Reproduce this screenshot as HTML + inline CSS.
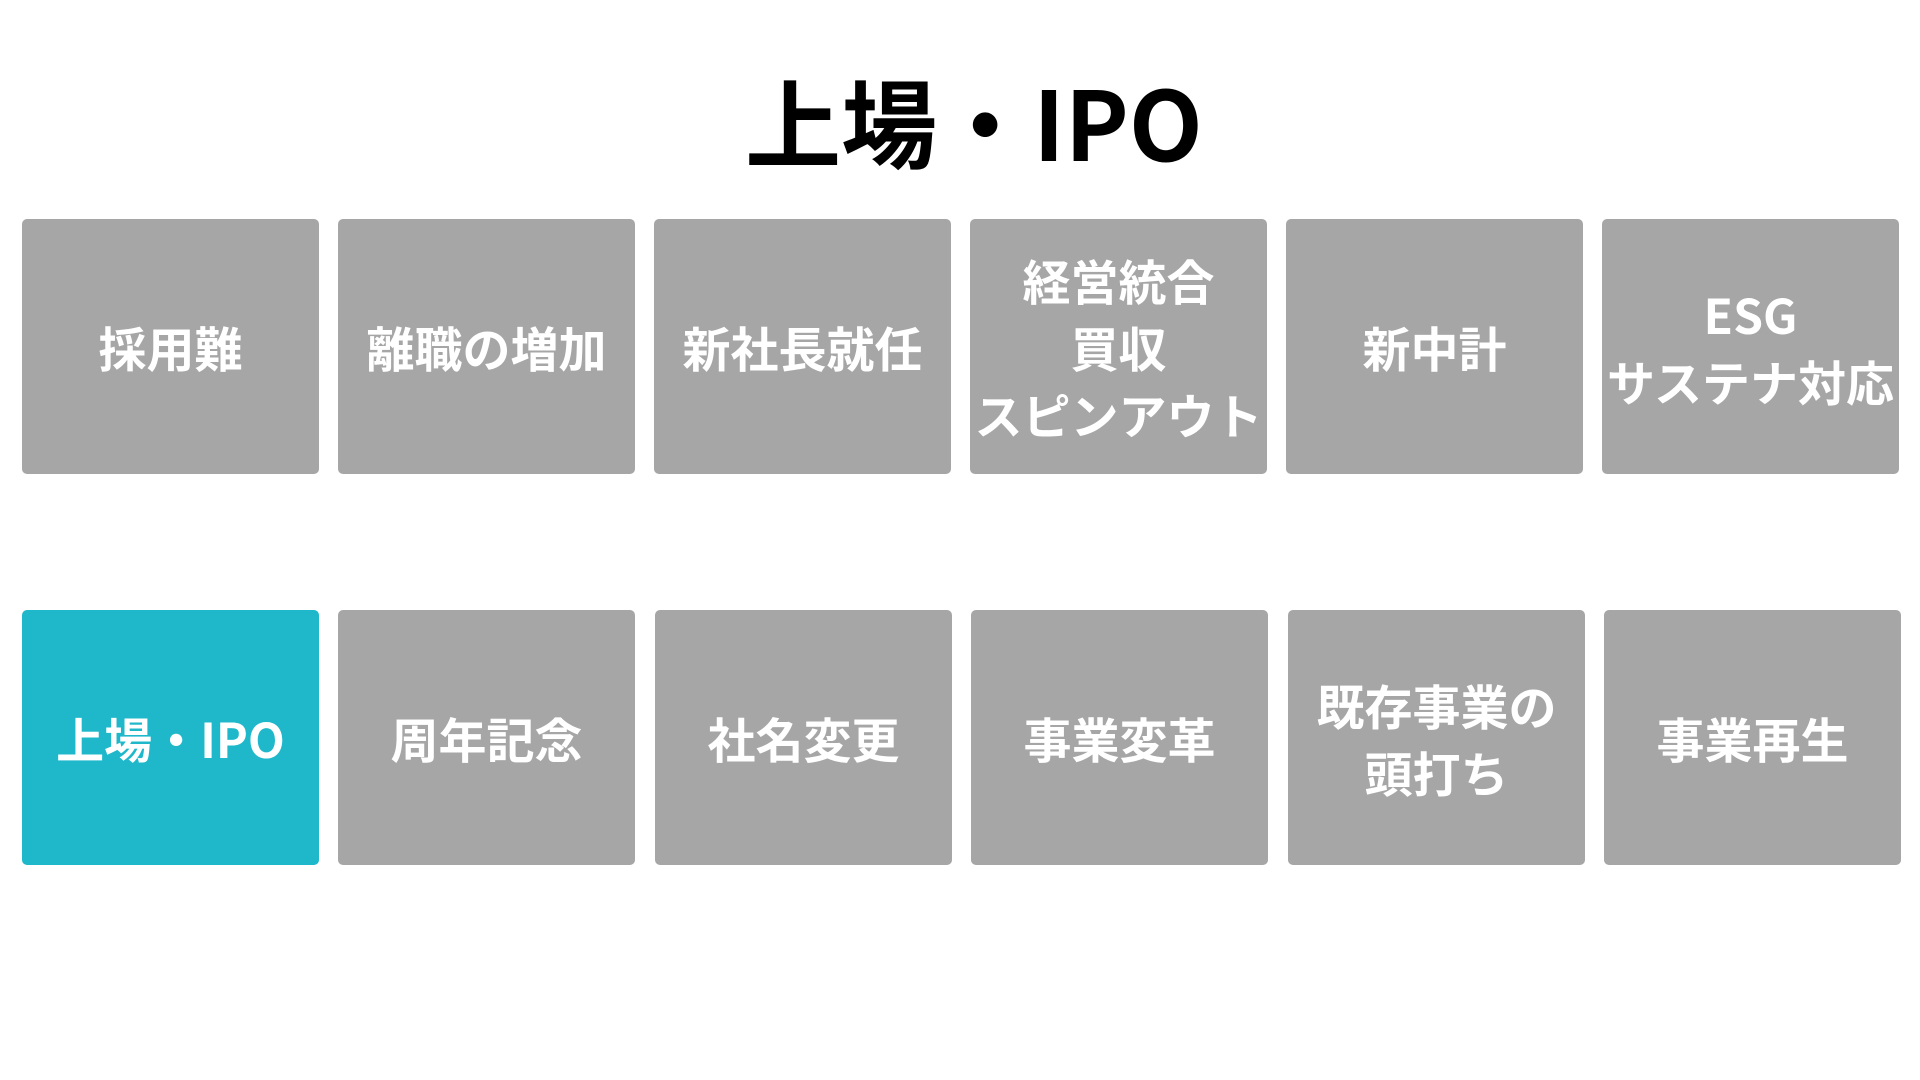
<!DOCTYPE html>
<html><head><meta charset="utf-8"><style>
body{margin:0;width:1920px;height:1080px;background:#fff;position:relative;overflow:hidden;font-family:"Liberation Sans","Noto Sans CJK JP",sans-serif;}
.t{position:absolute;left:0;width:1948px;top:58px;text-align:center;font-size:96px;font-weight:700;line-height:124px;font-family:"Noto Sans CJK JP",sans-serif;color:#000;}
.b{position:absolute;width:297px;height:255px;background:#a6a6a6;border-radius:5px;color:#fff;font-weight:700;font-size:48px;line-height:67px;display:flex;align-items:center;justify-content:center;text-align:center;font-family:"Noto Sans CJK JP",sans-serif;white-space:nowrap;}
.c{background:#1fb8cb;}
</style></head><body>
<div class="t">上場・IPO</div>
<div class="b" style="left:22px;top:219px">採用難</div>
<div class="b" style="left:338px;top:219px">離職の増加</div>
<div class="b" style="left:654px;top:219px">新社長就任</div>
<div class="b" style="left:970px;top:219px">経営統合<br>買収<br>スピンアウト</div>
<div class="b" style="left:1286px;top:219px">新中計</div>
<div class="b" style="left:1602px;top:219px">ESG<br>サステナ対応</div>
<div class="b c" style="left:22px;top:610px">上場・IPO</div>
<div class="b" style="left:338px;top:610px">周年記念</div>
<div class="b" style="left:655px;top:610px">社名変更</div>
<div class="b" style="left:971px;top:610px">事業変革</div>
<div class="b" style="left:1288px;top:610px">既存事業の<br>頭打ち</div>
<div class="b" style="left:1604px;top:610px">事業再生</div>
</body></html>
